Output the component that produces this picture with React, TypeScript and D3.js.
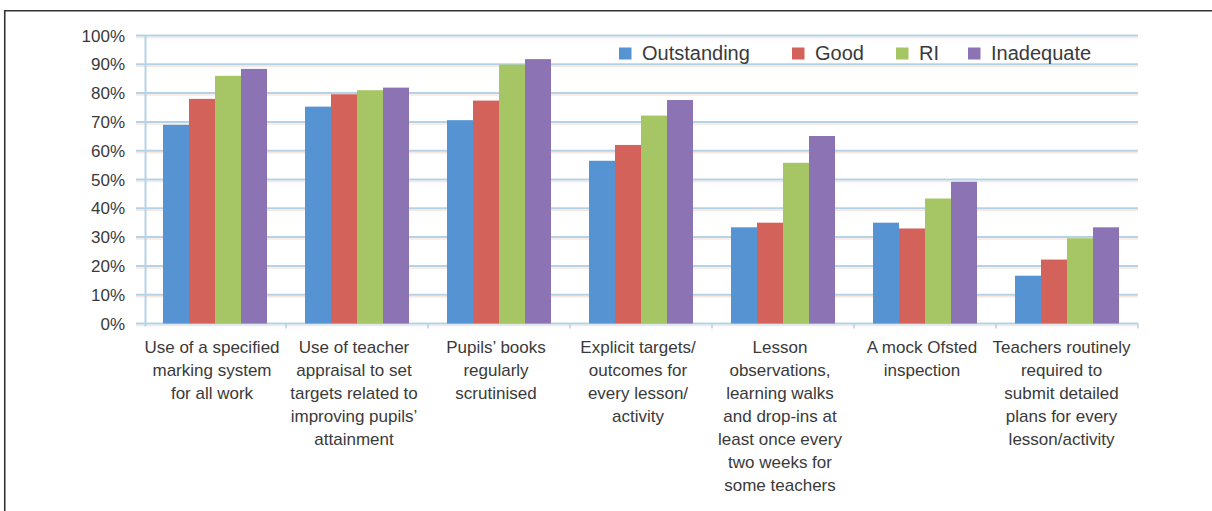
import React, { useEffect, useRef, useState } from "react";
import * as d3 from "d3";

const categories: string[][] = [
  ["Use of a specified", "marking system", "for all work"],
  ["Use of teacher", "appraisal to set", "targets related to", "improving pupils’", "attainment"],
  ["Pupils’ books", "regularly", "scrutinised"],
  ["Explicit targets/", "outcomes for", "every lesson/", "activity"],
  ["Lesson", "observations,", "learning walks", "and drop-ins at", "least once every", "two weeks for", "some teachers"],
  ["A mock Ofsted", "inspection"],
  ["Teachers routinely", "required to", "submit detailed", "plans for every", "lesson/activity"],
];

const seriesNames = ["Outstanding", "Good", "RI", "Inadequate"];
const outstanding = [69, 75.3, 70.6, 56.5, 33.4, 35, 16.6];
const good = [78, 79.6, 77.4, 62, 35, 33, 22.2];
const ri = [86, 81, 89.9, 72.2, 55.8, 43.4, 29.6];
const inadequate = [88.4, 81.9, 91.8, 77.6, 65.1, 49.2, 33.4];
const seriesValues = [outstanding, good, ri, inadequate];
const yTicks = [0, 10, 20, 30, 40, 50, 60, 70, 80, 90, 100];

const colors = ["#5593d2", "#d3625b", "#a6c565", "#8c74b4"];
const FONT = "'Liberation Sans', Arial, Helvetica, sans-serif";
const TEXT = "#3a3a3a";

export default function App() {
  const W = 1212, H = 511;
  const plotLeft = 144, plotRight = 1138, yTop = 35.5, yBottom = 323.5;
  const keys = categories.map((c) => c.join(" "));
  const x = d3.scaleBand<string>().domain(keys).range([plotLeft, plotRight]).paddingInner(38 / 142).paddingOuter(19 / 142);
  const xs = d3.scaleBand<string>().domain(seriesNames).range([0, x.bandwidth()]);
  const y = d3.scaleLinear().domain([0, 100]).range([yBottom, yTop]);

  const labelRefs = useRef<(SVGGElement | null)[]>([]);
  const [shifts, setShifts] = useState<number[]>(keys.map(() => 0));
  useEffect(() => {
    const s = labelRefs.current.map((g) => {
      if (!g) return 0;
      const b = g.getBBox();
      const right = b.x + b.width;
      return right > 1131 ? 1131 - right : 0;
    });
    setShifts(s);
  }, []);

  const legendX = [619, 792, 896, 968];

  return (
    <svg width={W} height={H} style={{ position: "absolute", left: 0, top: 0 }} fontFamily={FONT}>
      <rect width={W} height={H} fill="#fff" />
      {/* frame */}
      <path d={`M4.75,${H} V10.75 H${W}`} fill="none" stroke="#333" strokeWidth={1.6} />

      {/* gridlines */}
      {yTicks.map((t) => (
        <g key={t}>
          <line x1={136} x2={plotRight} y1={y(t) + 2} y2={y(t) + 2} stroke="#f6d8cf" strokeWidth={1.5} opacity={0.6} />
          <line x1={136} x2={plotRight} y1={y(t)} y2={y(t)} stroke="#b5d3e6" strokeWidth={2} />
        </g>
      ))}
      <line x1={145.5} x2={145.5} y1={yTop} y2={yBottom + 3} stroke="#b5d3e6" strokeWidth={2} />
      {keys.map((k, i) => (
        <line key={k} x1={(x(k) as number) - 19} x2={(x(k) as number) - 19} y1={yBottom} y2={yBottom + 5} stroke="#b5d3e6" strokeWidth={1.5} opacity={i === 0 ? 0 : 1} />
      ))}
      <line x1={plotRight} x2={plotRight} y1={yBottom} y2={yBottom + 5} stroke="#b5d3e6" strokeWidth={1.5} />

      {/* y labels */}
      {yTicks.map((t) => (
        <text key={t} x={125} y={y(t) + 6} textAnchor="end" fontSize={17} fill={TEXT}>
          {t}%
        </text>
      ))}

      {/* bars */}
      {keys.map((k, i) => (
        <g key={k} transform={`translate(${x(k)},0)`}>
          {seriesNames.map((s, j) => (
            <rect
              key={s}
              x={xs(s)}
              y={y(seriesValues[j][i])}
              width={xs.bandwidth()}
              height={yBottom - y(seriesValues[j][i])}
              fill={colors[j]}
            />
          ))}
        </g>
      ))}

      {/* category labels */}
      {categories.map((lines, i) => {
        const cx = (x(keys[i]) as number) + x.bandwidth() / 2 - 3 + shifts[i];
        return (
          <g key={i} ref={(el) => { labelRefs.current[i] = el; }}>
            {lines.map((l, j) => (
              <text key={j} x={cx} y={353 + j * 23} textAnchor="middle" fontSize={17} fill={TEXT}>
                {l}
              </text>
            ))}
          </g>
        );
      })}

      {/* legend */}
      {seriesNames.map((s, j) => (
        <g key={s}>
          <rect x={legendX[j]} y={47.5} width={12.5} height={12} fill={colors[j]} />
          <text x={legendX[j] + 23} y={59.5} fontSize={20} fill={TEXT}>
            {s}
          </text>
        </g>
      ))}
    </svg>
  );
}
